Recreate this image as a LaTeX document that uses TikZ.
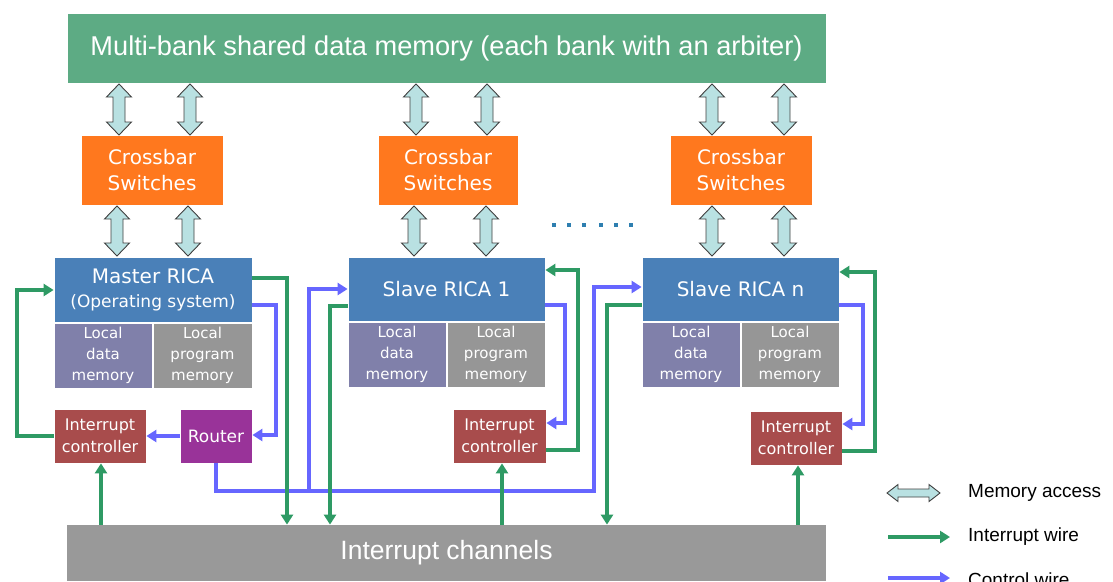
\documentclass[tikz,border=0pt]{standalone}
\usepackage{fontspec}
\setmainfont{DejaVu Sans}
\newfontfamily\arialf{Liberation Sans}
\usetikzlibrary{arrows.meta}
\definecolor{memgreen}{RGB}{93,171,132}
\definecolor{xorange}{RGB}{255,120,30}
\definecolor{ricablue}{RGB}{74,128,184}
\definecolor{ldmcol}{RGB}{128,128,170}
\definecolor{lpmcol}{RGB}{150,150,150}
\definecolor{iccol}{RGB}{168,76,76}
\definecolor{routercol}{RGB}{153,51,153}
\definecolor{chancol}{RGB}{153,153,153}
\definecolor{wgreen}{RGB}{46,154,100}
\definecolor{wblue}{RGB}{102,102,255}
\definecolor{arrfill}{RGB}{185,225,226}
\definecolor{arrline}{RGB}{64,64,64}
\definecolor{dotcol}{RGB}{46,127,176}
\newcommand\memv[3]{\filldraw[memarr] ({#1-6},{#2+13}) -- ({#1-12.5},{#2+13}) -- (#1,#2) -- ({#1+12.5},{#2+13}) -- ({#1+6},{#2+13}) -- ({#1+6},{#3-13}) -- ({#1+12.5},{#3-13}) -- (#1,#3) -- ({#1-12.5},{#3-13}) -- ({#1-6},{#3-13}) -- cycle;}
\newcommand\memh[3]{\filldraw[memarr] ({#1+11},{#3-4}) -- ({#1+11},{#3-8.5}) -- (#1,#3) -- ({#1+11},{#3+8.5}) -- ({#1+11},{#3+4}) -- ({#2-11},{#3+4}) -- ({#2-11},{#3+8.5}) -- (#2,#3) -- ({#2-11},{#3-8.5}) -- ({#2-11},{#3-4}) -- cycle;}
\begin{document}
\begin{tikzpicture}[x=1pt,y=-1pt,
  box/.style={draw=white, line width=0.8pt, text=white, align=center, inner sep=0pt},
  memarr/.style={fill=arrfill, draw=arrline, line width=0.9pt, line join=miter},
  gw/.style={draw=wgreen, line width=3.3pt},
  bw/.style={draw=wblue, line width=3.3pt},
  tip/.style={-{Triangle[length=10pt,width=12pt]}},
  cbox/.style={box, fill=xorange, minimum width=142pt, minimum height=70pt, font=\fontsize{20}{26}\selectfont},
  rbox/.style={box, fill=ricablue, minimum width=197pt, minimum height=64pt},
  ldm/.style={box, fill=ldmcol, minimum width=98pt, minimum height=65pt, font=\fontsize{15}{21}\selectfont},
  lpm/.style={box, fill=lpmcol, minimum width=98pt, minimum height=65pt, font=\fontsize{15}{21}\selectfont},
  icbox/.style={box, fill=iccol, minimum width=92pt, minimum height=54pt, font=\fontsize{16}{22}\selectfont},
  legt/.style={anchor=west, inner sep=0pt, font=\arialf\fontsize{19}{21}\selectfont}
]
\useasboundingbox (0,0) rectangle (1113,581);
\fill[white] (0,0) rectangle (1113,581);

% top memory
\node[box, fill=memgreen, minimum width=759pt, minimum height=70pt, font=\arialf\fontsize{27.2}{30}\selectfont] (mem) at (446.5,48) {Multi-bank shared data memory (each bank with an arbiter)};

% crossbars
\node[cbox] (cb1) at (152,170) {Crossbar\\Switches};
\node[cbox, minimum width=140pt] (cb2) at (448,170) {Crossbar\\Switches};
\node[cbox] (cb3) at (741,170) {Crossbar\\Switches};

% master RICA
\node[rbox, minimum width=198pt, minimum height=65pt] (master) at (153,289.5) {{\fontsize{20}{24}\selectfont Master RICA}\\[10pt]{\fontsize{17}{18}\selectfont (Operating system)}};
\node[ldm] (ldm0) at (103,355.5) {Local\\data\\memory};
\node[lpm, minimum width=99pt] (lpm0) at (202.5,355.5) {Local\\program\\memory};
\node[icbox] (ic0) at (100,436) {Interrupt\\controller};
\node[box, fill=routercol, minimum width=72pt, minimum height=54pt, font=\fontsize{17}{20}\selectfont] (router) at (216,436) {Router};

% slave RICA 1
\node[rbox, font=\fontsize{20}{24}\selectfont] (rica1) at (446.5,289) {Slave RICA 1};
\node[ldm] (ldm1) at (397,354.5) {Local\\data\\memory};
\node[lpm] (lpm1) at (496,354.5) {Local\\program\\memory};
\node[icbox, minimum width=93pt] (ic1) at (499.5,436) {Interrupt\\controller};

% slave RICA n
\node[rbox, font=\fontsize{20}{24}\selectfont] (rican) at (740.5,289) {Slave RICA n};
\node[ldm] (ldmn) at (691,354.5) {Local\\data\\memory};
\node[lpm] (lpmn) at (790,354.5) {Local\\program\\memory};
\node[icbox] (icn) at (796,438) {Interrupt\\controller};

% interrupt channels
\node[box, draw=none, fill=chancol, minimum width=759pt, minimum height=56pt, font=\arialf\fontsize{26.5}{28}\selectfont] (chan) at (446.5,553) {Interrupt channels};

% memory access arrows
\memv{119}{84}{135}\memv{190}{84}{135}
\memv{416}{84}{135}\memv{487}{84}{135}
\memv{712}{84}{135}\memv{784}{84}{135}
\memv{117}{206}{256}\memv{188}{206}{256}
\memv{414}{206}{256}\memv{486}{206}{256}
\memv{712}{206}{256}\memv{784}{206}{256}

% dots
\foreach \dx in {554,569,584,601,616,631}{\fill[dotcol] (\dx-1.6,223.4) rectangle (\dx+1.6,226.6);}

% control wires (blue)
\draw[bw,tip] (master.east |- 0,305) -| (276,435) -- (router.east |- 0,435);
\draw[bw,tip] (router.west) -- (ic0.east);
\draw[bw,tip] (router.south) |- (594,491) |- (rican.west |- 0,287);
\draw[bw,tip] (309,491) |- (rica1.west |- 0,289);
\draw[bw,tip] (rica1.east |- 0,305) -| (565,423) -- (ic1.east |- 0,423);
\draw[bw,tip] (rican.east |- 0,305) -| (863,424) -- (icn.east |- 0,424);

% interrupt wires (green)
\draw[gw,tip] (ic0.west) -| (17,290) -- (master.west |- 0,290);
\draw[gw,tip] (master.east |- 0,278) -| (287,0 |- chan.north);
\draw[gw,tip] (101,0 |- chan.north) -- (101,0 |- ic0.south);
\draw[gw,tip] (rica1.west |- 0,306) -| (330,0 |- chan.north);
\draw[gw,tip] (ic1.east |- 0,450) -| (578,270) -- (rica1.east |- 0,270);
\draw[gw,tip] (502,0 |- chan.north) -- (502,0 |- ic1.south);
\draw[gw,tip] (rican.west |- 0,305) -| (607,0 |- chan.north);
\draw[gw,tip] (icn.east |- 0,451) -| (875,272) -- (rican.east |- 0,272);
\draw[gw,tip] (798,0 |- chan.north) -- (798,0 |- icn.south);

% legend
\memh{887}{940}{493}
\node[legt] (lt1) at (968,493) {Memory access};
\coordinate (lg1) at (888,537);
\node[legt] (lt2) at (968,537) {Interrupt wire};
\draw[gw,tip] (lg1) -- (950,537);
\coordinate (lb1) at (888,578);
\node[legt] (lt3) at (968,580) {Control wire};
\draw[bw,tip] (lb1) -- (950,578);
\end{tikzpicture}
\end{document}
